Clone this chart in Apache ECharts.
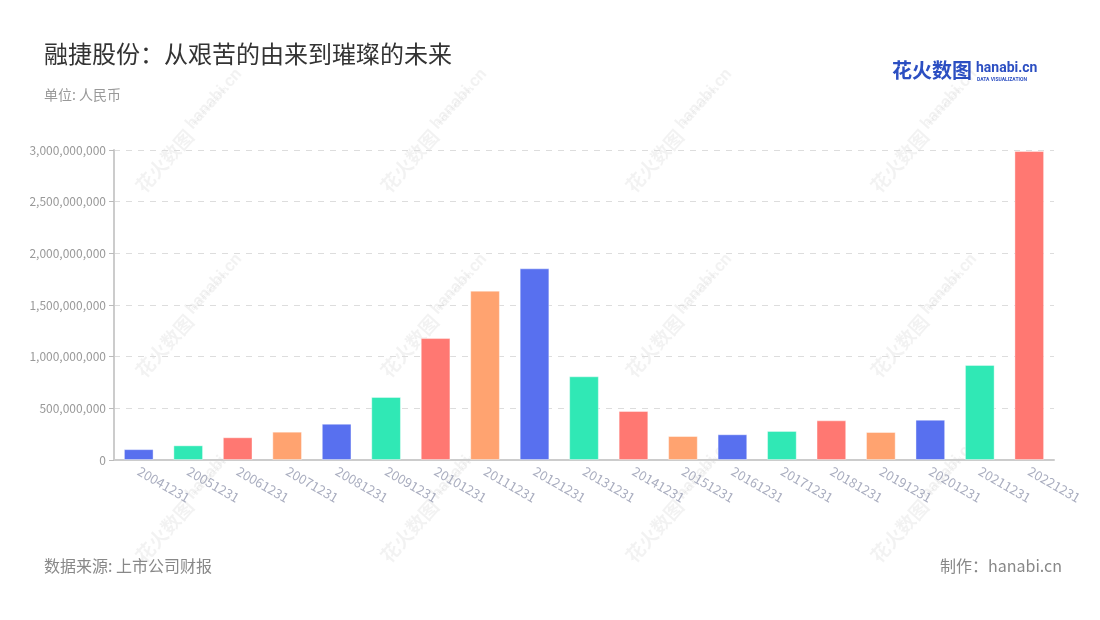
<!DOCTYPE html>
<html>
<head>
<meta charset="utf-8">
<script src="https://cdn.jsdelivr.net/npm/echarts@6/dist/echarts.min.js"></script>
<style>html,body{margin:0;padding:0;background:#fff}#c{width:1100px;height:620px}</style>
</head>
<body>
<div id="c"></div>
<script>
const categories = ['20041231','20051231','20061231','20071231','20081231','20091231','20101231','20111231','20121231','20131231','20141231','20151231','20161231','20171231','20181231','20191231','20201231','20211231','20221231'];
const values = [105000000,142000000,220000000,274000000,351000000,610000000,1180000000,1639000000,1855000000,810000000,474000000,232000000,249000000,281000000,384000000,271000000,390000000,920000000,2990000000];
const palette = ['#5870ef','#30e8b5','#ff7872','#ffa370'];

const chart = echarts.init(document.getElementById('c'), null, {renderer:'canvas'});
const font = '"Noto Sans CJK SC", "Noto Sans", sans-serif';

const wm = [];
const wxs = [132, 377, 622, 867];
const wys = [183, 368, 553];
wys.forEach(y => wxs.forEach(x => {
  wm.push({type:'group', x:x, y:y, rotation:0.84, silent:true, z:100, children:[
    {type:'text', x:0, y:0, style:{text:'花火数图', fill:'rgba(0,0,0,0.05)', font:'bold 19px ' + font, textBaseline:'bottom'}},
    {type:'text', x:80, y:-3, style:{text:'hanabi.cn', fill:'rgba(0,0,0,0.05)', font:'bold 17px Roboto, sans-serif', textBaseline:'bottom'}},
    {type:'text', x:84, y:4, style:{text:'DATA VISUALIZATION', fill:'rgba(0,0,0,0.05)', font:'bold 5px Roboto, sans-serif', textBaseline:'bottom'}}
  ]});
}));

chart.setOption({
  backgroundColor:'#fff',
  textStyle:{fontFamily:font},
  title:[
    {text:'融捷股份：从艰苦的由来到璀璨的未来', left:39, top:37, textStyle:{fontSize:24, fontWeight:'normal', color:'#333', fontFamily:font}},
    {text:'单位: 人民币', left:39, top:83, textStyle:{fontSize:14, fontWeight:'normal', color:'#999', fontFamily:font}},
    {text:'数据来源: 上市公司财报', left:39, top:553, textStyle:{fontSize:16, fontWeight:'normal', color:'#888', fontFamily:font}},
    {text:'制作：hanabi.cn', right:33, top:553, textStyle:{fontSize:16, fontWeight:'normal', color:'#888', fontFamily:font}}
  ],
  graphic:[
    {type:'text', left:892, top:60, style:{text:'花火数图', fill:'#2c4fc2', font:'bold 20px ' + font}},
    {type:'text', left:976, top:61, style:{text:'hanabi.cn', fill:'#2c4fc2', font:'bold 14px Roboto, sans-serif'}},
    {type:'text', left:977, top:77, style:{text:'DATA VISUALIZATION', fill:'#2c4fc2', font:'bold 5px Roboto, sans-serif'}}
  ].concat(wm),
  grid:{left:114, right:46, top:150, bottom:160, containLabel:false},
  xAxis:{
    type:'category', data:categories,
    axisLine:{lineStyle:{color:'#ccc', width:2}},
    axisTick:{alignWithLabel:true, lineStyle:{color:'#bbb'}},
    axisLabel:{rotate:-30, color:'#a9adbf', fontSize:13, margin:10, interval:0, fontFamily:font}
  },
  yAxis:{
    type:'value', min:0, max:3000000000, interval:500000000,
    axisLine:{show:true, lineStyle:{color:'#ccc', width:2}},
    axisTick:{show:true, lineStyle:{color:'#bbb'}},
    axisLabel:{color:'#999', fontSize:12, fontFamily:font,
      formatter:v => v.toLocaleString('en-US')},
    splitLine:{lineStyle:{type:[6,6], color:'#ddd'}}
  },
  series:[{
    type:'bar', barWidth:'60%',
    data:values.map((v,i)=>({value:v, itemStyle:{color:palette[i%4]}})),
    itemStyle:{borderWidth:1, borderColor:'rgba(255,255,255,0.4)'}
  }]
});
</script>
</body>
</html>
